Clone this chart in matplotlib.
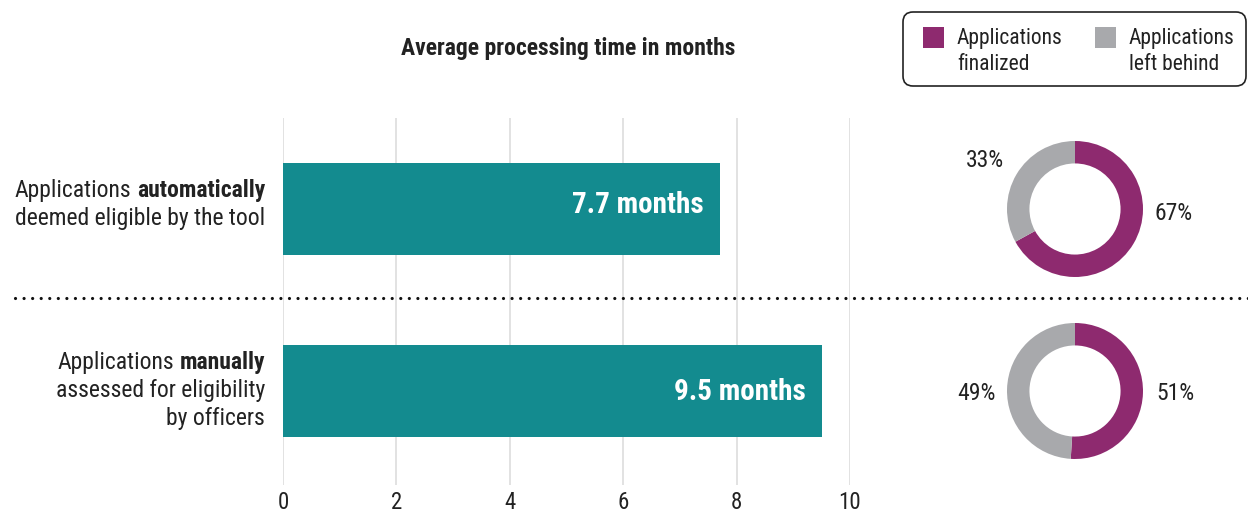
import matplotlib.pyplot as plt
from matplotlib.patches import FancyBboxPatch, Rectangle

plt.rcParams['font.family'] = ['Roboto Condensed', 'Roboto', 'DejaVu Sans']
plt.rcParams['font.size'] = 17
plt.rcParams['text.color'] = '#222222'

teal = '#138b8f'
purple = '#8e2a6f'
grey = '#a8a9ac'
ink = '#222222'

# data
groups = ['automatic', 'manual']
months = [7.7, 9.5]
finalized = [67, 51]
left_behind = [33, 49]
xticks = [0, 2, 4, 6, 8, 10]

W, H = 1248, 513
fig = plt.figure(figsize=(W / 100, H / 100), dpi=100)


def px_box(x0, y0, x1, y1):
    # pixel box (top-left origin) -> figure fraction rect
    return [x0 / W, 1 - y1 / H, (x1 - x0) / W, (y1 - y0) / H]


# bars
ax = fig.add_axes(px_box(283, 118, 850, 485))
ypos = [1, 0]
nudge = [0.02, -0.005]
ax.barh(ypos, months, height=0.505, color=teal, zorder=2)
for y, m, dy in zip(ypos, months, nudge):
    ax.text(m - 0.28, y + dy, f'{m} months', ha='right', va='center',
            color='white', fontsize=21, fontweight='bold', zorder=3)
ax.set_xlim(0, 10)
ax.set_ylim(-0.516, 1.5)
ax.set_xticks(xticks)
ax.set_yticks([])
ax.grid(axis='x', color='#dddddd', lw=1.2, zorder=0)
for s in ax.spines.values():
    s.set_visible(False)
ax.tick_params(axis='x', length=0, pad=4, labelsize=16.5, labelcolor=ink)

# donuts
centers = [(1075, 209), (1075, 391)]
r = 68
pct_pos = [[(1.45, -0.06), (-1.32, 0.72)],
           [(1.47, -0.04), (-1.45, -0.04)]]
for (cx, cy), fin, lb, pos in zip(centers, finalized, left_behind, pct_pos):
    pax = fig.add_axes(px_box(cx - 1.5 * r, cy - 1.5 * r,
                              cx + 1.5 * r, cy + 1.5 * r))
    pax.pie([fin, lb], colors=[purple, grey], startangle=90,
            counterclock=False, wedgeprops=dict(width=0.33, lw=0))
    pax.set_xlim(-1.5, 1.5)
    pax.set_ylim(-1.5, 1.5)
    pax.set_aspect('equal')
    pax.axis('off')
    for (tx, ty), v in zip(pos, [fin, lb]):
        pax.text(tx, ty, f'{v}%', ha='center', va='center', fontsize=17)

# overlay in pixel coordinates for labels, divider and legend
ov = fig.add_axes([0, 0, 1, 1], zorder=5)
ov.set_xlim(0, W)
ov.set_ylim(H, 0)
ov.axis('off')
ov.patch.set_alpha(0)

ov.text(568, 48, 'Average processing time in months', ha='center',
        va='center', fontsize=17, fontweight='bold')

# divider
ov.plot([15, W], [298, 298], color='#111111', lw=2.3,
        linestyle=(0, (0.01, 2.67)), dash_capstyle='round')


def label(y_lines, first_reg, first_bold, rest):
    b = ov.text(265, y_lines[0], first_bold, ha='right', va='center',
                fontweight='bold')
    ov.annotate(first_reg, xy=(0, 0.5), xycoords=b, xytext=(-4, 0),
                textcoords='offset points', ha='right', va='center')
    for y, line in zip(y_lines[1:], rest):
        ov.text(265, y, line, ha='right', va='center')


label([191, 219], 'Applications', 'automatically',
      ['deemed eligible by the tool'])
label([362, 390, 418], 'Applications', 'manually',
      ['assessed for eligibility', 'by officers'])

# legend box
ov.add_patch(FancyBboxPatch((903, 12), 343, 74,
                            boxstyle='round,pad=0,rounding_size=10',
                            fc='white', ec=ink, lw=1.2))
for x, c, t in [(923, purple, 'Applications\nfinalized'),
                (1095, grey, 'Applications\nleft behind')]:
    ov.add_patch(Rectangle((x, 27), 21, 21, color=c, lw=0))
    ov.text(x + 34, 51.5, t, ha='left', va='center', fontsize=15.5,
            linespacing=1.27)

fig.savefig('out.png', dpi=100)
